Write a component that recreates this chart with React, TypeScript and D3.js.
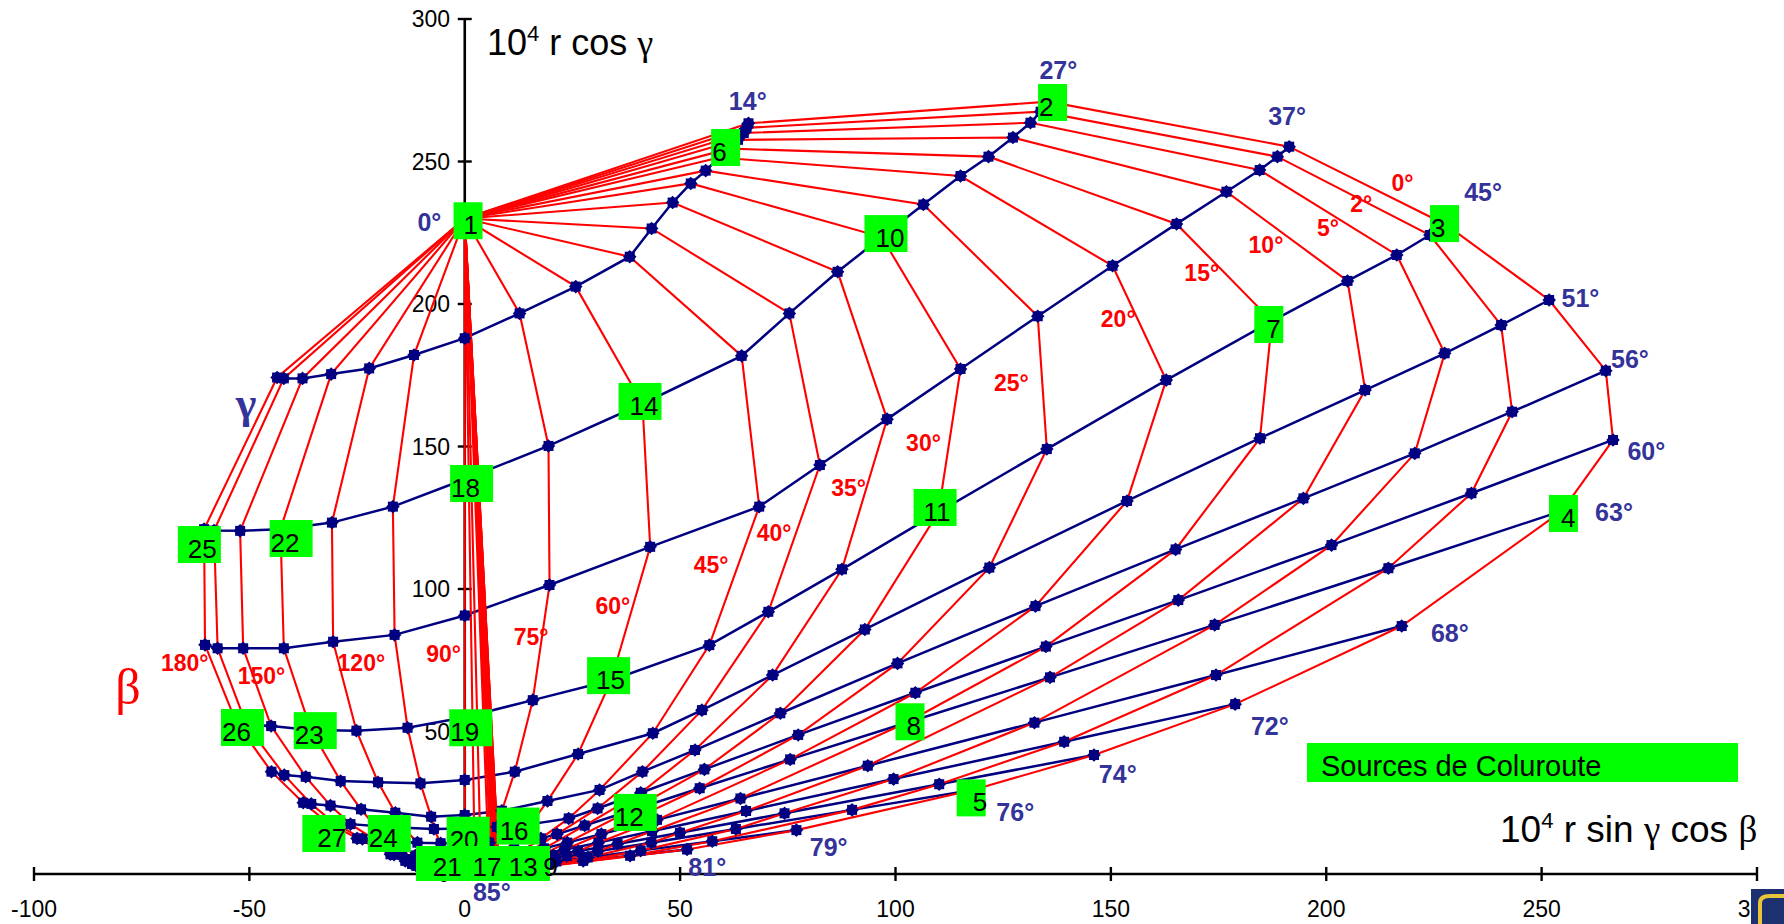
import React from "react";
import * as d3 from "d3";

// ---------- data ----------
// gamma angles (deg) of the blue iso-gamma lines
const GAMMA = [0, 14.04, 26.57, 36.87, 45, 51.34, 56.31, 60.26, 63.43, 68.2, 71.57, 74.05, 75.96, 78.69, 80.54, 85];
const GAMMA_LABELS = ["0°", "14°", "27°", "37°", "45°", "51°", "56°", "60°", "63°", "68°", "72°", "74°", "76°", "79°", "81°", "85°"];
// beta angles (deg) of the red iso-beta lines
const BETA = [0, 2, 5, 10, 15, 20, 25, 30, 35, 40, 45, 60, 75, 90, 105, 120, 135, 150, 165, 180];
const BETA_LABELS = ["0°", "2°", "5°", "10°", "15°", "20°", "25°", "30°", "35°", "40°", "45°", "60°", "75°", "90°", "120°", "150°", "180°"];

// 10^4 r cos(gamma) read for each gamma, one value per beta
const RC_G00 = [230, 230, 230, 230, 230, 230, 230, 230, 230, 230, 230, 230, 230, 230, 230, 230, 230, 230, 230, 230];
const RC_G14 = [263.4, 261.8, 260.0, 257.6, 254.5, 251.4, 246.8, 242.3, 235.6, 226.5, 216.6, 206.1, 196.7, 188.0, 182.1, 177.4, 175.4, 173.9, 173.9, 174.2];
const RC_G27 = [271.0, 267.5, 263.6, 258.4, 251.7, 244.9, 234.9, 223.5, 211.3, 196.7, 181.8, 165.0, 150.2, 138.5, 128.9, 123.3, 121.0, 120.4, 120.5, 121.0];
const RC_G37 = [255.2, 251.7, 247.0, 239.4, 228.1, 213.4, 195.7, 177.2, 159.6, 143.5, 128.9, 114.8, 101.4, 90.7, 83.9, 81.5, 79.2, 79.2, 79.2, 80.4];
const RC_G45 = [227.8, 224.2, 217.2, 208.1, 194.0, 173.3, 149.1, 127.0, 106.9, 92.0, 80.3, 68.0, 61.0, 55.0, 51.3, 50.3, 50.5, 51.9, 52.5, 53.0];
const RC_G51 = [201.4, 192.6, 182.7, 169.8, 152.9, 130.9, 107.5, 85.8, 69.8, 57.5, 49.4, 42.1, 35.9, 33.0, 31.8, 32.2, 32.6, 34.1, 34.7, 35.9];
const RC_G56 = [176.6, 162.2, 147.6, 131.8, 113.9, 94.0, 73.9, 56.4, 43.5, 35.9, 29.5, 25.6, 22.2, 20.7, 20.1, 21.5, 22.7, 24.0, 24.6, 25.0];
const RC_G60 = [152.3, 133.6, 115.4, 96.1, 79.8, 63.6, 48.8, 36.7, 28.5, 23.0, 19.5, 17.5, 16.5, 16.0, 15.8, 16.2, 16.8, 17.5, 18.0, 18.3];
const RC_G63 = [127.4, 107.3, 87.4, 69.0, 53.0, 40.2, 30.1, 22.0, 17.0, 14.0, 12.5, 11.5, 11.0, 10.8, 10.8, 11.0, 11.5, 12.0, 12.3, 12.5];
const RC_G68 = [87.0, 69.8, 53.1, 38.0, 26.5, 19.0, 14.0, 11.0, 9.0, 7.8, 7.0, 6.5, 6.3, 6.2, 6.2, 6.3, 6.5, 6.7, 6.8, 6.9];
const RC_G72 = [59.6, 46.4, 33.3, 22.1, 15.0, 11.0, 8.5, 7.0, 6.0, 5.3, 4.8, 4.3, 4.1, 4.0, 4.0, 4.1, 4.2, 4.4, 4.5, 4.6];
const RC_G74 = [41.75, 31.5, 21.3, 14.5, 10.5, 8.0, 6.5, 5.5, 4.7, 4.2, 3.8, 3.4, 3.2, 3.1, 3.1, 3.2, 3.3, 3.4, 3.5, 3.5];
const RC_G76 = [29.5, 22.5, 15.8, 11.0, 8.0, 6.3, 5.2, 4.4, 3.8, 3.4, 3.1, 2.8, 2.6, 2.5, 2.5, 2.5, 2.6, 2.7, 2.7, 2.8];
const RC_G79 = [15.4, 11.5, 8.2, 5.8, 4.4, 3.5, 3.0, 2.6, 2.3, 2.1, 1.9, 1.7, 1.6, 1.5, 1.5, 1.5, 1.6, 1.6, 1.7, 1.7];
const RC_G81 = [8.6, 6.4, 4.6, 3.3, 2.6, 2.1, 1.8, 1.6, 1.4, 1.3, 1.2, 1.1, 1.0, 1.0, 1.0, 1.0, 1.0, 1.1, 1.1, 1.1];
const RC_G85 = [0.7, 0.7, 0.7, 0.7, 0.7, 0.7, 0.7, 0.7, 0.7, 0.7, 0.7, 0.66, 0.79, 0.7, 0.7, 0.7, 0.7, 0.7, 0.7, 0.7];

const X_TICKS = [-100, -50, 0, 50, 100, 150, 200, 250, 300];
const Y_TICKS = [0, 50, 100, 150, 200, 250, 300];

// sources (green boxes): label and box top-left corner in data units
const SOURCES = [
  { t: "1", x: -2.6, y: 235.7 }, { t: "2", x: 133.1, y: 277.2 }, { t: "3", x: 224.1, y: 234.7 },
  { t: "4", x: 251.7, y: 133.0 }, { t: "5", x: 114.2, y: 33.2 }, { t: "6", x: 57.2, y: 261.4 },
  { t: "7", x: 183.3, y: 199.3 }, { t: "8", x: 100.0, y: 59.9 }, { t: "10", x: 92.8, y: 231.2 },
  { t: "11", x: 104.2, y: 135.1 }, { t: "12", x: 34.6, y: 28.1 }, { t: "14", x: 35.7, y: 172.3 },
  { t: "15", x: 28.4, y: 76.1 }, { t: "16", x: 7.4, y: 23.3 }, { t: "18", x: -3.4, y: 143.5 },
  { t: "19", x: -3.6, y: 57.8 }, { t: "20", x: -4.2, y: 20.1 }, { t: "22", x: -45.3, y: 124.2 },
  { t: "23", x: -39.7, y: 56.8 }, { t: "24", x: -22.5, y: 20.7 }, { t: "25", x: -66.6, y: 122.1 },
  { t: "26", x: -56.6, y: 57.9 }, { t: "27", x: -37.7, y: 20.7 },
];
const SOURCE_TEXT_DX = { "1": 10, "4": 12, "5": 16, "7": 12, "8": 11, "10": 11, "11": 10, "14": 11, "15": 9, "25": 10, "27": 15, "16": 3, "20": 3 };
const BOTTOM_ROW = [{ t: "21", x: -7.4 }, { t: "17", x: 1.8 }, { t: "13", x: 10.2 }, { t: "9", x: 18.2 }];

// label anchors (data units)
const GAMMA_LABEL_POS = [[-8.2, 228.9], [65.7, 271.3], [137.8, 282.1], [190.9, 266], [236.4, 239.4], [259, 202], [270.5, 180.6], [274.3, 148.5], [266.8, 127.1], [228.7, 84.5], [186.9, 51.9], [151.6, 35.1], [127.8, 21.9], [84.5, 9.4], [56.3, 2.6], [6.3, -6.2]];
const BETA_LABEL_POS = [[217.7, 242.3], [208.1, 235.1], [200.4, 226.6], [186, 220.7], [171.1, 210.8], [151.7, 194.9], [126.9, 172.4], [106.5, 151.3], [89.1, 135.3], [71.8, 119.5], [57.2, 108.4], [34.4, 94.1], [15.4, 83.1], [-4.9, 77.2], [-24, 73.9], [-47.2, 69.5], [-65, 73.9]];

const ROWS = [RC_G00, RC_G14, RC_G27, RC_G37, RC_G45, RC_G51, RC_G56, RC_G60, RC_G63, RC_G68, RC_G72, RC_G74, RC_G76, RC_G79, RC_G81, RC_G85];

const W = 1784, H = 924;
const SANS = "'Liberation Sans', Arial, sans-serif";
const SERIF = "'Liberation Serif', 'Times New Roman', serif";
const RED = "#ff0000", NAVY = "#000080", LBLUE = "#333399", GREEN = "#00ff00";

export default function App() {
  const x = d3.scaleLinear().domain([-100, 300]).range([34, 1757]);
  const y = d3.scaleLinear().domain([0, 300]).range([874, 19]);
  const rad = Math.PI / 180;

  const pts = ROWS.map((row, gi) =>
    row.map((v, bi) => ({
      x: v * Math.tan(GAMMA[gi] * rad) * Math.cos(BETA[bi] * rad),
      y: v,
    }))
  );
  const line = d3.line<{ x: number; y: number }>().x((d) => x(d.x)).y((d) => y(d.y));
  const last = pts.length - 1;

  // iso-beta series: the last gamma row is listed first in the series (for beta <= 90),
  // which draws the near-vertical bundle from source 1 to the bottom
  const redPaths = BETA.map((b, bi) => {
    const seq = pts.map((row) => row[bi]);
    const ordered = b <= 90 ? [seq[last], ...seq] : seq;
    return line(ordered) as string;
  });
  const bluePaths = pts.slice(1).map((row) => line(row) as string);

  const Marker = ({ cx, cy }: { cx: number; cy: number }) => (
    <g transform={`translate(${cx},${cy})`}>
      <rect x={-5} y={-5} width={10} height={10} fill={NAVY} />
      <rect x={-4.8} y={-4.8} width={9.6} height={9.6} fill={NAVY} transform="rotate(45)" />
    </g>
  );

  return (
    <svg width={W} height={H} style={{ position: "absolute", left: 0, top: 0, display: "block", background: "#fff" }} fontFamily={SANS}>
      {/* axes */}
      <line x1={x(-100)} x2={x(300)} y1={y(0)} y2={y(0)} stroke="#000" strokeWidth={2.6} />
      <line x1={x(0)} x2={x(0)} y1={y(0)} y2={y(300)} stroke="#000" strokeWidth={2.6} />
      {X_TICKS.map((t) => (
        <g key={"xt" + t}>
          <line x1={x(t)} x2={x(t)} y1={y(0) - 7} y2={y(0) + 7} stroke="#000" strokeWidth={2.4} />
          <text x={x(t)} y={917} textAnchor="middle" fontSize={23}>{t}</text>
        </g>
      ))}
      {Y_TICKS.map((t) => (
        <g key={"yt" + t}>
          <line x1={x(0) - 7} x2={x(0) + 7} y1={y(t)} y2={y(t)} stroke="#000" strokeWidth={2.4} />
          <text x={450} y={y(t) + 8} textAnchor="end" fontSize={23}>{t}</text>
        </g>
      ))}

      {/* grid lines */}
      {bluePaths.map((d, i) => (
        <path key={"b" + i} d={d} fill="none" stroke={NAVY} strokeWidth={2.5} />
      ))}
      {redPaths.map((d, i) => (
        <path key={"r" + i} d={d} fill="none" stroke={RED} strokeWidth={2.1} />
      ))}
      {pts.slice(1).map((row, gi) =>
        row.map((p, bi) => <Marker key={`m${gi}-${bi}`} cx={x(p.x)} cy={y(p.y)} />)
      )}

      {/* axis titles */}
      <text x={487} y={55} fontSize={36}>
        10<tspan dy={-14} fontSize={22}>4</tspan><tspan dy={14}> r cos </tspan>
        <tspan fontFamily={SERIF}>γ</tspan>
      </text>
      <text x={1500} y={842} fontSize={37}>
        10<tspan dy={-14} fontSize={22}>4</tspan><tspan dy={14}> r sin </tspan>
        <tspan fontFamily={SERIF}>γ</tspan><tspan> cos </tspan><tspan fontFamily={SERIF}>β</tspan>
      </text>

      {/* beta labels */}
      {BETA_LABELS.map((t, i) => (
        <text key={"bl" + i} x={x(BETA_LABEL_POS[i][0])} y={y(BETA_LABEL_POS[i][1]) + 8} textAnchor="middle" fontSize={23} fontWeight="bold" fill={RED}>{t}</text>
      ))}
      {/* gamma labels */}
      {GAMMA_LABELS.map((t, i) => (
        <text key={"gl" + i} x={x(GAMMA_LABEL_POS[i][0])} y={y(GAMMA_LABEL_POS[i][1]) + 9} textAnchor="middle" fontSize={25} fontWeight="bold" fill={LBLUE}>{t}</text>
      ))}
      <text x={246} y={418} textAnchor="middle" fontSize={44} fontWeight="bold" fill={LBLUE} fontFamily={SERIF}>γ</text>
      <text x={128} y={704} textAnchor="middle" fontSize={50} fill={RED} fontFamily={SERIF}>β</text>

      {/* sources */}
      {SOURCES.map((s) => {
        const w = s.t.length > 1 ? 43 : 29;
        const bx = x(s.x), by = y(s.y);
        const dx = (SOURCE_TEXT_DX as any)[s.t] ?? 1;
        return (
          <g key={"s" + s.t}>
            <rect x={bx} y={by} width={w} height={37} fill={GREEN} />
            <text x={bx + dx} y={by + 32} fontSize={26}>{s.t}</text>
          </g>
        );
      })}
      <rect x={416} y={846} width={134} height={35} fill={GREEN} />
      {BOTTOM_ROW.map((s) => (
        <text key={"br" + s.t} x={x(s.x)} y={876} fontSize={26}>{s.t}</text>
      ))}

      {/* legend */}
      <rect x={1307} y={743} width={431} height={39} fill={GREEN} />
      <text x={1321} y={776} fontSize={29}>Sources de Coluroute</text>

      {/* corner logo */}
      <rect x={1751} y={889} width={33} height={35} fill="#1d3170" />
      <path d="M1760,924 L1760,903 Q1760,896 1770,896 L1784,896" fill="none" stroke="#e8c43a" strokeWidth={4} />
    </svg>
  );
}
